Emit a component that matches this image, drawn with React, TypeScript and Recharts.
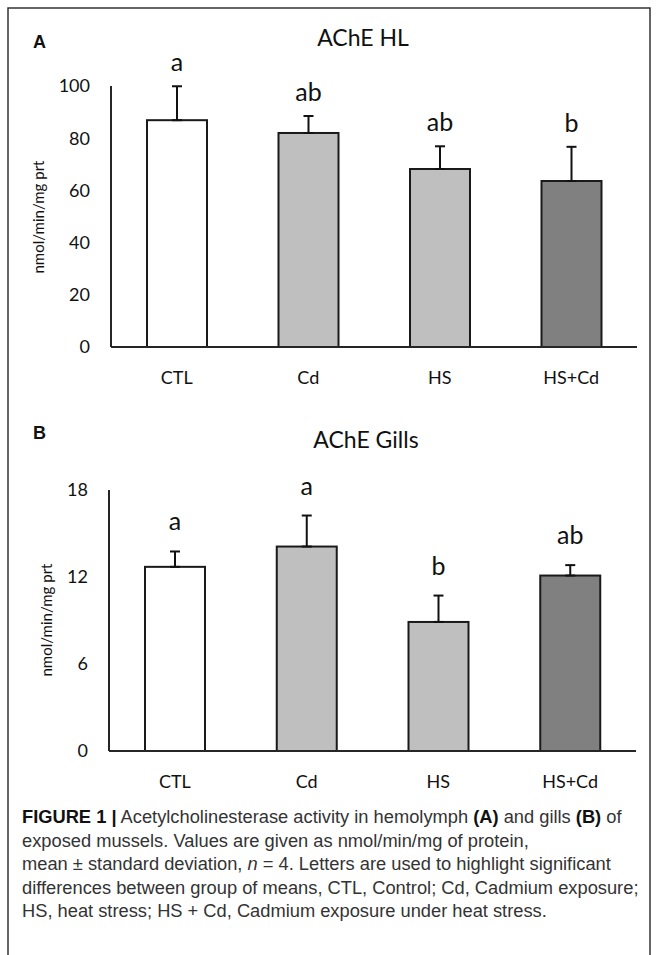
import React from 'react';
import { BarChart, Bar, XAxis, YAxis, ErrorBar } from 'recharts';

const categories = ['CTL', 'Cd', 'HS', 'HS+Cd'];

const hlMeans = [86.9, 82.0, 68.2, 63.6];
const hlErrors = [13.0, 6.5, 8.7, 13.1];
const hlLetters = ['a', 'ab', 'ab', 'b'];
const hlTicks = [0, 20, 40, 60, 80, 100];

const gillMeans = [12.7, 14.1, 8.9, 12.1];
const gillErrors = [1.06, 2.14, 1.82, 0.72];
const gillLetters = ['a', 'a', 'b', 'ab'];
const gillTicks = [0, 6, 12, 18];

const barFills = ['#ffffff', '#bfbfbf', '#bfbfbf', '#808080'];

const FONT = 'Lato, "Open Sans", sans-serif';
const CAP_FONT = '"Liberation Sans", Arial, sans-serif';

const buildData = (means: number[], errors: number[], letters: string[]) =>
  categories.map((cat, i) => ({
    cat,
    mean: means[i],
    err: [0, errors[i]],
    errUp: errors[i],
    letter: letters[i],
  }));

const hlData = buildData(hlMeans, hlErrors, hlLetters);
const gillData = buildData(gillMeans, gillErrors, gillLetters);

const makeShape = (offset: number) => (props: any) => {
  const { x, y, width, height, payload, index } = props;
  const pxPerUnit = payload.mean ? height / payload.mean : 0;
  const errTop = y - payload.errUp * pxPerUnit;
  return (
    <g>
      <rect
        x={x}
        y={y}
        width={width}
        height={height}
        fill={barFills[index % barFills.length]}
        stroke="#1a1a1a"
        strokeWidth={2}
      />
      <text
        x={x + width / 2}
        y={errTop - offset}
        textAnchor="middle"
        fontFamily={FONT}
        fontSize={25}
        fill="#111"
      >
        {payload.letter}
      </text>
    </g>
  );
};

const tickStyle = { fontFamily: FONT, fontSize: 18, fill: '#111' };
const axisLine = { stroke: '#262626', strokeWidth: 2 };

function Panel({
  data,
  ticks,
  yMax,
  yWidth,
  margin,
  offset,
}: {
  data: any[];
  ticks: number[];
  yMax: number;
  yWidth: number;
  margin: any;
  offset: number;
}) {
  return (
    <BarChart width={657} height={400} data={data} margin={margin} barSize={60}>
      <XAxis
        dataKey="cat"
        axisLine={axisLine}
        tickLine={false}
        tickMargin={18}
        height={30}
        tick={tickStyle}
        interval={0}
      />
      <YAxis
        type="number"
        domain={[0, yMax]}
        ticks={ticks}
        width={yWidth}
        axisLine={axisLine}
        tickLine={false}
        tickMargin={15}
        tick={tickStyle}
        interval={0}
      />
      <Bar dataKey="mean" isAnimationActive={false} shape={makeShape(offset)}>
        <ErrorBar dataKey="err" width={5} strokeWidth={2} stroke="#111" isAnimationActive={false} />
      </Bar>
    </BarChart>
  );
}

export default function App() {
  const captionLines: React.ReactNode[] = [
    <>
      <tspan fontWeight="bold" fill="#111">FIGURE 1 |</tspan> Acetylcholinesterase activity in hemolymph{' '}
      <tspan fontWeight="bold" fill="#111">(A)</tspan> and gills <tspan fontWeight="bold" fill="#111">(B)</tspan> of
    </>,
    <>exposed mussels. Values are given as nmol/min/mg of protein,</>,
    <>
      mean ± standard deviation, <tspan fontStyle="italic">n</tspan> = 4. Letters are used to highlight significant
    </>,
    <>differences between group of means, CTL, Control; Cd, Cadmium exposure;</>,
    <>HS, heat stress; HS + Cd, Cadmium exposure under heat stress.</>,
  ];
  return (
    <div
      style={{
        position: 'absolute',
        left: 0,
        top: 0,
        width: 657,
        height: 955,
        background: '#fff',
        overflow: 'hidden',
      }}
    >
      <div style={{ position: 'absolute', left: 0, top: 0 }}>
        <Panel
          data={hlData}
          ticks={hlTicks}
          yMax={100}
          yWidth={111}
          margin={{ top: 86, right: 20, bottom: 23, left: 0 }}
          offset={15}
        />
      </div>
      <div style={{ position: 'absolute', left: 0, top: 400 }}>
        <Panel
          data={gillData}
          ticks={gillTicks}
          yMax={18}
          yWidth={109}
          margin={{ top: 90, right: 21, bottom: 19, left: 0 }}
          offset={21}
        />
      </div>
      <svg
        width={657}
        height={955}
        style={{ position: 'absolute', left: 0, top: 0, pointerEvents: 'none' }}
      >
        <rect x={8} y={8} width={642} height={1000} fill="none" stroke="#333" strokeWidth={1.5} />
        <text x={33} y={48} fontFamily={CAP_FONT} fontWeight="bold" fontSize={18} fill="#111">
          A
        </text>
        <text x={33} y={439} fontFamily={CAP_FONT} fontWeight="bold" fontSize={18} fill="#111">
          B
        </text>
        <text x={363} y={46} textAnchor="middle" fontFamily={FONT} fontSize={23} fill="#111">
          AChE HL
        </text>
        <text x={366} y={448} textAnchor="middle" fontFamily={FONT} fontSize={23} fill="#111">
          AChE Gills
        </text>
        <text
          x={38}
          y={217}
          transform="rotate(-90 38 217)"
          textAnchor="middle"
          dominantBaseline="central"
          fontFamily={FONT}
          fontSize={15}
          fill="#111"
        >
          nmol/min/mg prt
        </text>
        <text
          x={46}
          y={620}
          transform="rotate(-90 46 620)"
          textAnchor="middle"
          dominantBaseline="central"
          fontFamily={FONT}
          fontSize={15}
          fill="#111"
        >
          nmol/min/mg prt
        </text>
        {captionLines.map((line, i) => (
          <text
            key={i}
            x={22}
            y={823 + i * 23.5}
            fontFamily={CAP_FONT}
            fontSize={18.3}
            fill="#333"
          >
            {line}
          </text>
        ))}
      </svg>
    </div>
  );
}
